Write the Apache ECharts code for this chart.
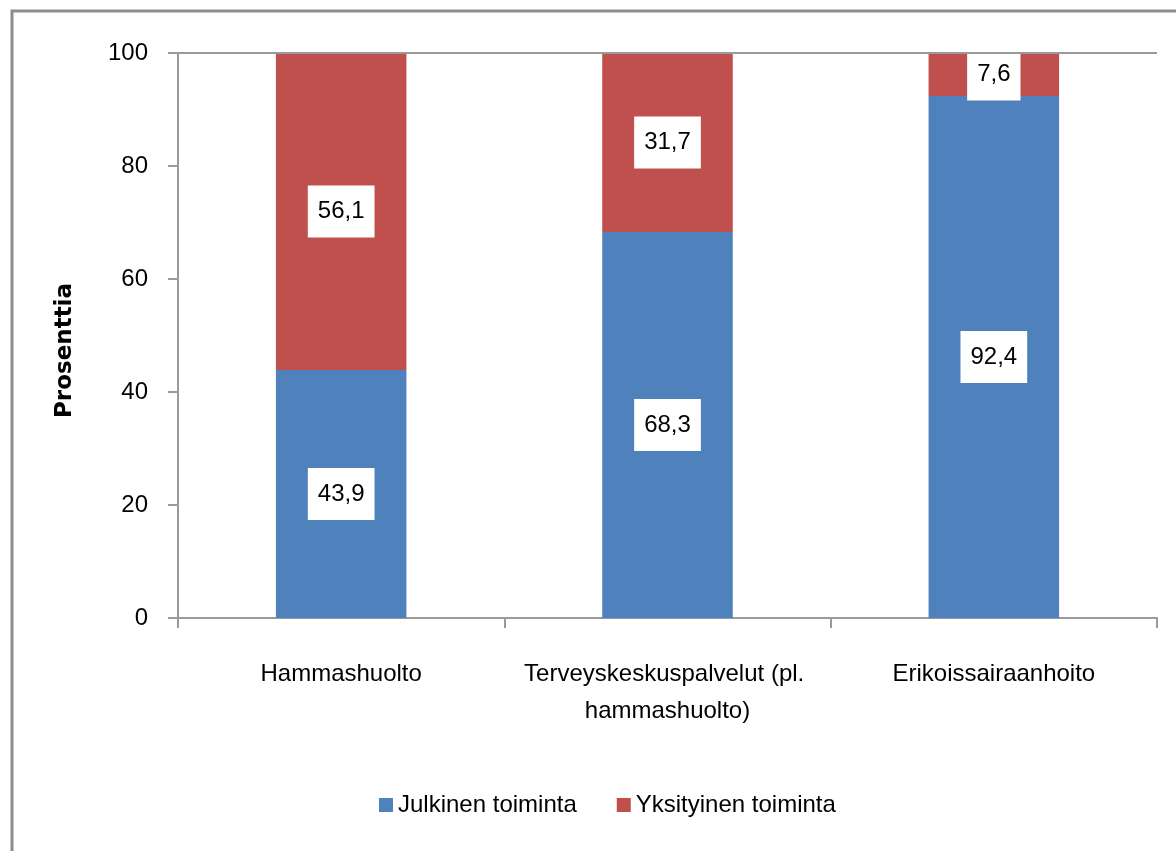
<!DOCTYPE html>
<html>
<head>
<meta charset="utf-8">
<script src="https://cdn.jsdelivr.net/npm/echarts@6/dist/echarts.min.js"></script>
<style>
  body { margin: 0; background: #fff; }
  #main { width: 1176px; height: 851px; }
</style>
</head>
<body>
<div id="main"></div>
<script>
// kategoriat ja arvot (%)
var categories = ['Hammashuolto', 'Terveyskeskuspalvelut (pl. hammashuolto)', 'Erikoissairaanhoito'];
var julkinen = [43.9, 68.3, 92.4];
var yksityinen = [56.1, 31.7, 7.6];
var seriesNames = ['Julkinen toiminta', 'Yksityinen toiminta'];
var yTicks = [0, 20, 40, 60, 80, 100];

var font = '"Liberation Sans", Arial, sans-serif';

var chart = echarts.init(document.getElementById('main'));

// datalabel: valkoinen laatikko, pilkku desimaalierottimena
var dataLabel = {
  show: true,
  position: 'inside',
  backgroundColor: '#fff',
  padding: [14, 10],
  color: '#000',
  fontFamily: font,
  fontSize: 24,
  formatter: function (p) {
    return String(p.value).replace('.', ',');
  }
};

var option = {
  animation: false,
  color: ['#4F81BD', '#C0504D'],
  // kehys
  graphic: [{
    type: 'rect',
    shape: { x: 12, y: 11, width: 1300, height: 1000 },
    style: { fill: 'none', stroke: '#8c8c8c', lineWidth: 3 },
    silent: true
  }],
  grid: { left: 178, right: 19, top: 53, bottom: 233 },
  legend: {
    data: seriesNames,
    left: 374,
    top: 788,
    itemWidth: 14,
    itemHeight: 14,
    itemGap: 40,
    icon: 'rect',
    textStyle: { fontFamily: font, fontSize: 24, color: '#000' }
  },
  xAxis: {
    type: 'category',
    data: categories,
    axisLine: { lineStyle: { color: '#9a9a9a', width: 2 } },
    axisTick: { show: true, length: 10, lineStyle: { color: '#9a9a9a', width: 2 } },
    axisLabel: {
      interval: 0,
      margin: 38,
      width: 320,
      overflow: 'break',
      lineHeight: 37,
      color: '#000',
      fontFamily: font,
      fontSize: 24
    }
  },
  yAxis: {
    type: 'value',
    min: yTicks[0],
    max: yTicks[yTicks.length - 1],
    interval: 20,
    name: 'Prosenttia',
    nameLocation: 'middle',
    nameGap: 101,
    nameTextStyle: {
      fontFamily: '"DejaVu Sans", sans-serif',
      fontWeight: 'bold',
      fontSize: 23,
      color: '#000',
      padding: [0, 30, 0, 0]
    },
    axisLine: { show: true, lineStyle: { color: '#9a9a9a', width: 2 } },
    axisTick: { show: true, length: 10, lineStyle: { color: '#9a9a9a', width: 2 } },
    splitLine: { show: false },
    axisLabel: {
      margin: 30,
      color: '#000',
      fontFamily: font,
      fontSize: 24
    }
  },
  series: [
    {
      name: seriesNames[0],
      type: 'bar',
      stack: 'yht',
      barWidth: '40%',
      data: julkinen,
      label: dataLabel
    },
    {
      name: seriesNames[1],
      type: 'bar',
      stack: 'yht',
      barWidth: '40%',
      data: yksityinen,
      label: dataLabel,
      // ylin viiva 100:n kohdalla
      markLine: {
        silent: true,
        symbol: 'none',
        label: { show: false },
        lineStyle: { color: '#9a9a9a', width: 2, type: 'solid' },
        data: [{ yAxis: 100 }]
      }
    }
  ]
};

chart.setOption(option);
</script>
</body>
</html>
